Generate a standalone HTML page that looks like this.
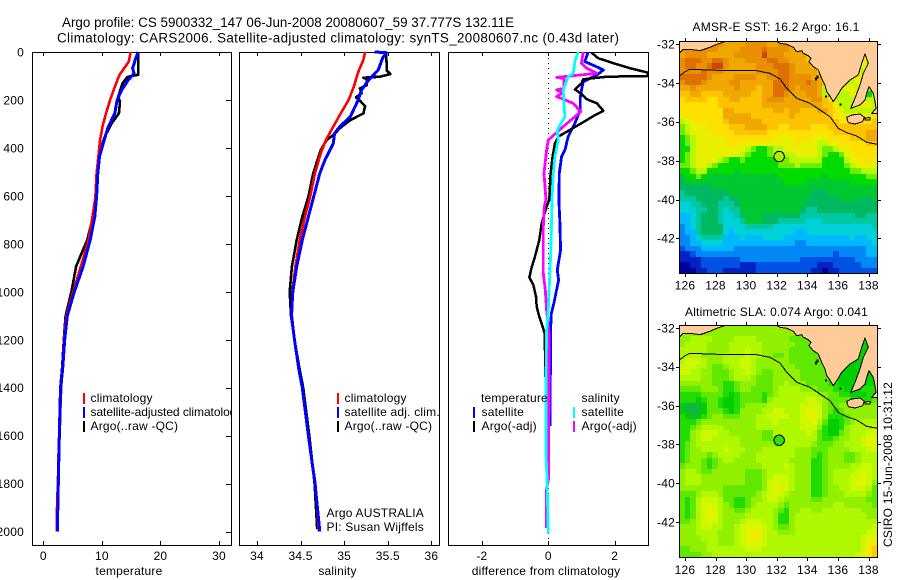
<!DOCTYPE html>
<html>
<head>
<meta charset="utf-8">
<style>
html,body{margin:0;padding:0;background:#fff;width:900px;height:580px;overflow:hidden}
svg{display:block}
text{font-family:"Liberation Sans",sans-serif;font-size:12px;fill:#000;letter-spacing:.2px}
.title{font-size:13.4px;letter-spacing:0}
.crisp{shape-rendering:crispEdges}
</style>
</head>
<body>
<svg id="fig" xmlns="http://www.w3.org/2000/svg" width="900" height="580" viewBox="0 0 900 580">
<defs>
<clipPath id="clip-p3"><rect x="448" y="52" width="200" height="493"/></clipPath>
<clipPath id="clip-m1"><rect x="679" y="41" width="199" height="233"/></clipPath>
<clipPath id="clip-m2"><rect x="679" y="325" width="199" height="233"/></clipPath>
</defs>
<text class="title" x="62" y="27" textLength="452" lengthAdjust="spacing">Argo profile: CS 5900332_147 06-Jun-2008 20080607_59 37.777S 132.11E</text>
<text class="title" x="57" y="42.5" textLength="562" lengthAdjust="spacing">Climatology: CARS2006. Satellite-adjusted climatology: synTS_20080607.nc (0.43d later)</text>

<g id="panel-temp"></g>
<g>
<rect class="crisp" x="83" y="393" width="2" height="11" fill="#f00"/><text x="90.5" y="402">climatology</text>
<rect class="crisp" x="83" y="407" width="2" height="11" fill="#00f"/><text x="90.5" y="416" textLength="152" lengthAdjust="spacing">satellite-adjusted climatology</text>
<rect class="crisp" x="83" y="421" width="2" height="11" fill="#000"/><text x="90.5" y="430">Argo(..raw -QC)</text>
</g>
<rect x="232" y="46" width="216" height="534" fill="#fff"/>
<g id="panel-sal"></g>
<g>
<rect class="crisp" x="337" y="393" width="2" height="11" fill="#f00"/><text x="344.5" y="402">climatology</text>
<rect class="crisp" x="337" y="407" width="2" height="11" fill="#00f"/><text x="344.5" y="416">satellite adj. clim.</text>
<rect class="crisp" x="337" y="421" width="2" height="11" fill="#000"/><text x="344.5" y="430">Argo(..raw -QC)</text>
<text x="326.5" y="517">Argo AUSTRALIA</text>
<text x="326.5" y="531">PI: Susan Wijffels</text>
</g>
<g id="panel-diff"></g>
<g>
<text x="481" y="402">temperature</text>
<rect class="crisp" x="473" y="407" width="2" height="11" fill="#00f"/><text x="481.5" y="416">satellite</text>
<rect class="crisp" x="473" y="421" width="2" height="11" fill="#000"/><text x="481.5" y="430">Argo(-adj)</text>
<text x="581.5" y="402">salinity</text>
<rect class="crisp" x="573" y="407" width="2" height="11" fill="#0ff"/><text x="581.5" y="416">satellite</text>
<rect class="crisp" x="573" y="421" width="2" height="11" fill="#f0f"/><text x="581.5" y="430">Argo(-adj)</text>
</g>
<g id="map-sst"></g>
<g id="map-sla"></g>
<text x="692.5" y="31" textLength="167" lengthAdjust="spacing">AMSR-E SST: 16.2 Argo: 16.1</text>
<text x="685" y="316" textLength="183" lengthAdjust="spacing">Altimetric SLA: 0.074 Argo: 0.041</text>
<text transform="translate(892,547) rotate(-90)" textLength="165" lengthAdjust="spacing">CSIRO 15-Jun-2008 10:31:12</text>
</svg>
<script>
// ---- profile data (depth in dbar) ----
const tempClimDepth=[0,40,68,96,145,200,256,311,367,436,506,603,687,784,895,1000,1100,1200,1300,1400,1500,1600,1680,1800,1880,2000];
const tempClimValue=[14.9,14.6,13.8,13.0,12.2,11.4,10.7,10.1,9.7,9.4,9.1,8.9,8.4,7.7,6.4,5.1,3.95,3.55,3.3,3.05,2.9,2.8,2.6,2.5,2.35,2.3];
const tempSatDepth=[0,26,68,89,117,158,200,256,311,367,436,506,603,687,784,895,1000,1100,1200,1325,1400,1600,1800,2000];
const tempSatValue=[16.2,15.8,15.25,15.5,14.5,13.4,12.6,12.2,11.1,10.4,9.6,9.3,9.1,8.8,8.0,6.8,5.3,4.1,3.65,3.3,2.97,2.73,2.56,2.39];
const tempArgoDepth=[0,25,95,100,105,131,186,207,256,297,353,409,506,603,687,784,853,895,1000,1100,1200,1325,1400,1600,1800,2000];
const tempArgoValue=[16.2,16.2,16.2,15.0,14.3,13.5,12.8,13.1,12.9,11.7,10.5,9.7,9.2,9.0,8.5,7.5,6.3,5.6,4.8,3.8,3.5,3.2,2.9,2.7,2.5,2.3];

const salClimDepth=[0,33,75,96,145,200,256,311,367,423,506,603,687,784,895,1000,1100,1200,1325,1400,1600,1800,2000];
const salClimValue=[35.24,35.22,35.17,35.15,35.11,35.05,34.96,34.875,34.79,34.73,34.665,34.61,34.55,34.49,34.44,34.405,34.4,34.43,34.48,34.52,34.59,34.67,34.71];
const salSatDepth=[0,3,26,75,117,158,200,270,311,339,381,450,506,603,687,784,895,1000,1100,1200,1325,1400,1600,1800,2000];
const salSatValue=[35.35,35.48,35.44,35.39,35.28,35.2,35.16,35.07,34.95,34.89,34.875,34.78,34.72,34.65,34.59,34.52,34.455,34.41,34.395,34.43,34.48,34.52,34.59,34.665,34.72];
const salArgoDepth=[0,78,92,103,107,114,138,152,172,189,203,225,256,284,318,346,367,409,506,603,687,784,895,1000,1100,1200,1325,1400,1600,1800,1990];
const salArgoValue=[35.48,35.49,35.53,35.41,35.22,35.26,35.26,35.18,35.2,35.135,35.18,35.24,35.22,35.07,34.95,34.875,34.8,34.73,34.645,34.59,34.52,34.455,34.4,34.375,34.39,34.43,34.49,34.53,34.6,34.66,34.69];

const diffTempSatDepth=[0,40,58,75,96,110,124,158,193,242,297,353,409,436,506,617,714,826,909,951,992,1048,1090,1159,1243,1500,1560];
const diffTempSatValue=[1.2,1.1,1.4,1.66,1.46,1.26,1.05,1.0,0.96,0.96,0.8,0.6,0.5,0.4,0.33,0.32,0.35,0.37,0.27,0.31,0.25,0.17,0.09,0.07,0.07,0.05,0.05];
const diffTempArgoDepth=[0,26,47,68,86,100,103,114,131,156,175,197,214,245,267,297,325,353,381,436,506,617,645,714,784,853,902,940,972,1020,1062,1104,1146,1173,1298,1340,1500];
const diffTempArgoValue=[1.28,1.5,1.97,2.47,3.0,3.0,1.77,1.05,1.0,0.8,1.0,1.16,1.46,1.66,1.36,1.0,0.65,0.3,0.2,0.13,0.07,0.03,-0.05,-0.2,-0.27,-0.4,-0.51,-0.57,-0.45,-0.37,-0.35,-0.27,-0.17,-0.11,-0.09,-0.09,-0.02];
const diffSalSatDepth=[0,40,89,103,158,214,270,325,367,436,506,617,714,853,978,1076,1159,1368,1673,1778,2007];
const diffSalSatValue=[0.9,0.8,0.75,0.6,0.45,0.47,0.5,0.27,0.3,0.2,0.15,0.11,0.1,0.07,0.03,0,-0.05,-0.07,-0.07,-0.04,0];
const diffSalArgoDepth=[0,47,68,89,106,110,152,158,170,186,197,214,249,270,311,367,409,506,617,645,728,826,923,992,1076,1173,1368,1780,1830,1985];
const diffSalArgoValue=[1.05,1.0,1.16,1.46,0.25,0.47,0.47,0.25,0.43,0.25,0.45,0.75,0.98,0.8,0.45,0,-0.05,-0.13,-0.07,-0.12,-0.15,-0.15,-0.15,-0.09,-0.05,0.02,0.02,0.01,-0.06,-0.06];

// ---- axis tick data ----
const depthTicks=[0,200,400,600,800,1000,1200,1400,1600,1800,2000];
const tempTicks=[0,10,20,30];
const salTicks=[34,34.5,35,35.5,36];
const diffTicks=[-2,0,2];
const lonTicks=[126,128,130,132,134,136,138];
const latTicks=[-32,-34,-36,-38,-40,-42];

// ---- map grids: colour-level of each cell, north to south, west to east ----
const sstGrid=[
[16,16,16,16,16,16,16,16,15,15,15,15,16,16,16,16,15,15,16,16,15,15,15,15,15,15,15,15,15,15,15,15,15,15,15,15],
[16,16,16,16,16,16,16,15,15,15,15,16,16,16,16,17,16,16,16,16,15,15,15,15,15,15,15,15,15,15,15,15,15,15,15,15],
[15,16,16,16,16,15,15,15,15,15,16,16,16,16,16,18,16,16,16,15,15,15,15,14,14,14,14,14,14,14,14,14,14,14,14,14],
[16,17,17,17,16,16,17,17,16,15,15,15,16,16,16,16,17,17,16,16,15,15,15,14,14,14,14,14,12,12,12,12,12,12,12,12],
[16,17,17,16,16,17,18,18,16,15,15,15,15,15,16,16,16,17,17,17,16,15,15,15,14,14,14,14,12,12,12,12,12,12,12,12],
[16,16,16,16,17,16,16,16,15,15,15,15,15,15,16,16,16,16,17,17,16,15,15,15,15,14,14,14,12,12,12,12,12,11,12,12],
[17,17,17,17,17,16,15,15,15,15,16,16,16,16,15,15,16,16,17,17,16,16,16,16,15,15,15,15,12,12,12,12,12,12,12,12],
[16,17,17,17,16,15,15,15,15,16,16,15,15,15,15,15,15,17,17,17,16,16,16,17,16,15,15,11,12,12,11,11,12,12,11,11],
[15,15,16,15,15,15,15,15,15,15,16,15,15,15,14,15,15,17,17,17,16,15,16,16,16,15,11,11,11,11,12,12,11,11,12,11],
[14,14,15,15,14,14,14,14,15,15,15,15,15,14,14,15,15,17,17,16,15,15,15,16,16,15,11,9,11,11,11,12,12,11,9,11],
[13,14,14,14,14,13,13,14,14,15,15,14,14,14,14,15,16,16,16,15,15,15,15,15,16,16,14,13,11,11,11,11,12,12,11,11],
[13,13,13,13,13,13,13,14,14,14,14,14,14,14,14,15,15,15,15,15,15,15,15,15,15,15,14,14,12,11,11,11,12,12,12,11],
[13,13,13,13,13,13,13,13,15,15,14,14,14,14,14,14,14,15,15,14,15,15,14,14,14,15,15,14,13,12,11,11,11,11,11,11],
[12,13,13,13,13,13,13,13,15,15,15,15,15,14,14,14,14,14,14,14,15,14,14,14,14,14,14,14,13,12,12,12,12,12,12,13],
[11,12,12,13,13,13,13,13,14,15,15,15,15,15,15,14,14,14,14,14,14,14,14,14,14,14,14,14,14,13,13,13,13,13,13,14],
[10,11,12,12,12,13,13,13,13,14,14,14,15,15,15,15,14,14,13,13,14,14,14,14,13,13,13,14,14,14,14,14,14,14,14,14],
[10,11,12,12,12,12,13,13,13,13,14,14,14,14,14,14,13,13,13,13,13,13,13,13,13,13,13,13,14,14,14,14,14,14,15,15],
[9,10,11,12,12,12,12,12,13,13,13,13,13,13,13,13,13,12,12,12,12,13,13,13,12,12,12,13,13,13,13,14,14,14,15,15],
[9,10,11,12,12,12,12,12,12,13,13,12,12,12,12,12,12,12,12,12,12,13,12,12,12,11,11,12,12,13,13,13,13,13,14,14],
[9,9,11,12,12,12,12,12,12,12,12,12,11,10,9,9,10,11,11,12,12,12,12,12,12,11,10,10,11,12,12,13,13,13,13,13],
[9,10,11,12,12,12,12,12,12,12,12,11,10,9,9,9,10,11,11,11,11,12,12,12,12,11,10,9,9,10,12,12,13,13,13,13],
[9,10,11,12,12,12,12,11,10,9,9,10,9,9,9,9,9,9,10,10,11,11,11,11,11,11,9,9,9,9,11,12,12,13,13,12],
[10,10,11,12,12,11,10,9,9,9,9,9,9,9,9,9,9,9,10,10,10,11,10,10,10,10,9,9,9,9,10,11,12,12,12,12],
[9,9,10,11,11,9,9,9,9,9,8,9,9,9,9,9,9,9,9,9,9,9,9,9,9,9,9,9,9,9,9,10,10,11,11,11],
[8,9,9,10,9,8,8,8,8,8,8,8,8,8,8,8,8,8,9,9,9,9,9,9,9,9,8,9,9,9,9,9,9,9,10,10],
[7,8,8,8,8,8,8,8,8,8,8,8,8,8,8,8,8,8,8,9,9,9,9,8,8,8,8,8,8,8,8,9,9,9,9,9],
[7,7,7,7,7,7,8,8,8,8,8,8,8,8,8,8,8,8,8,8,8,8,8,8,8,8,8,8,8,8,8,8,8,8,8,8],
[6,7,7,7,7,7,7,7,7,8,8,8,8,8,8,8,8,8,8,8,8,8,8,8,7,7,7,8,8,8,8,8,8,8,8,8],
[6,6,6,7,7,7,7,7,6,7,7,8,8,8,8,8,8,8,8,8,8,8,8,7,7,7,7,7,7,8,8,8,8,7,7,8],
[5,5,6,6,7,7,7,6,6,6,7,8,8,8,8,8,8,8,8,8,8,8,8,7,7,7,7,7,7,7,7,7,7,7,7,7],
[5,5,5,6,6,7,7,6,5,6,6,8,8,8,8,8,8,8,8,8,8,8,7,6,6,7,7,7,7,7,7,7,7,7,7,7],
[4,4,5,6,7,7,7,6,5,5,6,7,8,8,8,7,7,7,7,7,7,7,6,6,6,6,6,6,6,6,6,6,7,7,6,6],
[4,4,5,6,7,7,7,6,5,5,5,6,8,8,8,7,7,7,6,6,6,6,6,5,5,5,6,6,6,6,6,6,6,6,6,6],
[3,4,5,6,7,7,7,7,5,5,5,5,6,6,6,6,6,5,5,5,5,5,5,5,5,5,5,5,5,5,5,5,5,5,5,6],
[3,4,4,6,7,7,7,7,5,4,5,5,5,5,5,5,5,5,5,5,5,4,4,5,5,5,5,5,5,5,5,5,5,5,5,5],
[3,3,4,5,6,6,6,6,4,4,4,5,4,4,4,5,5,5,5,4,4,4,4,4,4,4,4,4,4,4,4,5,4,4,5,5],
[3,3,4,4,5,5,5,5,4,4,4,4,4,4,4,4,4,4,4,4,4,3,3,4,4,4,4,4,4,4,4,4,4,4,4,5],
[2,3,3,3,4,4,4,4,4,4,3,3,3,3,3,3,3,3,3,3,3,3,3,3,3,3,3,3,3,3,3,3,3,3,4,4],
[1,1,2,3,3,3,3,3,3,3,3,3,3,3,3,3,3,3,3,3,3,3,3,3,3,3,3,3,2,3,3,3,3,3,4,4],
[1,1,1,1,2,2,2,2,2,2,2,3,3,3,3,3,3,3,3,3,3,3,2,2,2,2,2,2,2,2,2,2,3,3,3,3],
[0,0,1,1,2,2,2,2,2,2,2,1,1,1,2,2,2,2,2,2,2,2,2,2,2,1,1,1,2,2,2,2,2,3,3,3],
[0,0,0,1,1,2,2,2,1,1,1,1,1,1,2,2,2,2,2,2,2,2,2,2,1,1,0,1,1,2,2,2,2,2,2,2]
];
const slaGrid=[
[4,4,4,4,4,4,4,4,4,4,4,4,4,4,4,4,4,4,4,4,4,3,3,3,3,3,3,3,3,3,3,3,3,3,3,3],
[4,4,4,4,4,4,4,4,4,4,4,4,4,4,4,4,4,4,4,4,4,3,3,3,3,3,3,3,3,3,3,3,3,3,3,3],
[4,4,5,5,5,5,4,4,4,4,5,5,5,5,4,4,4,4,4,4,3,3,3,3,3,3,3,3,2,2,2,2,2,2,2,2],
[4,5,5,5,5,4,4,4,4,5,5,5,5,5,5,4,4,4,4,4,4,3,3,3,3,3,3,3,1,1,1,1,1,1,1,1],
[5,5,5,5,5,4,4,4,4,5,5,5,6,5,5,4,4,4,4,4,3,3,3,3,3,3,3,3,1,1,1,1,1,1,1,1],
[5,5,5,5,4,4,4,4,5,5,5,5,6,5,5,4,4,3,3,4,3,3,3,3,3,3,3,3,1,1,1,1,1,1,1,1],
[5,6,6,6,5,4,4,4,5,5,5,6,6,5,4,4,4,4,4,4,3,3,3,3,3,3,3,3,1,1,1,1,1,1,1,1],
[6,6,6,5,5,4,3,3,4,5,5,6,6,5,4,4,4,4,4,4,4,3,3,3,3,3,3,3,1,1,1,1,1,1,1,1],
[6,6,5,5,4,4,3,3,3,4,5,5,6,5,4,3,3,4,4,4,4,4,3,3,3,3,3,3,2,1,1,1,1,1,1,1],
[5,5,5,5,4,4,3,3,3,4,5,5,5,4,3,3,3,4,4,4,4,4,3,3,3,3,3,2,1,1,1,1,1,1,1,1],
[4,4,4,4,4,4,3,3,2,2,3,4,4,4,3,3,3,4,4,5,4,4,4,3,3,3,3,2,2,1,1,1,1,1,1,1],
[3,3,3,3,4,4,4,3,2,2,3,4,4,3,3,3,3,4,5,5,5,5,4,4,4,3,3,3,2,2,1,1,1,2,2,2],
[2,2,2,2,3,3,3,3,2,1,2,3,3,3,3,2,3,4,5,5,5,5,5,5,5,4,4,3,3,2,2,1,1,1,2,2],
[2,2,2,1,2,3,3,2,1,1,2,3,3,3,3,2,4,5,5,5,5,5,5,6,6,5,4,3,3,3,3,2,2,2,2,3],
[1,0,0,0,1,3,3,2,1,1,2,3,4,4,4,4,5,5,5,5,5,5,6,6,6,6,4,3,3,4,4,4,4,4,4,4],
[1,0,0,0,1,3,3,3,2,1,2,4,4,4,4,5,5,6,6,5,5,5,6,7,7,6,4,3,2,3,4,4,4,4,4,4],
[2,1,0,1,2,3,4,4,3,3,3,4,4,4,5,5,6,6,6,6,5,5,6,7,7,6,4,2,2,2,3,4,4,4,4,4],
[2,2,2,3,4,4,4,4,4,4,4,4,4,4,5,5,5,6,5,5,5,5,6,6,7,5,3,1,1,2,3,4,5,5,5,5],
[2,2,3,4,5,5,5,5,4,4,4,4,4,4,5,5,5,5,5,5,5,5,6,6,6,4,2,1,1,2,4,5,5,5,5,6],
[2,2,4,5,6,6,6,5,5,4,4,4,4,4,4,3,3,5,5,5,5,5,5,6,5,3,2,1,1,3,4,5,5,5,6,6],
[2,2,4,5,6,6,5,5,5,5,5,4,4,4,4,3,3,4,5,5,5,5,5,5,5,3,2,2,3,4,4,5,5,6,7,7],
[2,3,4,5,5,5,5,5,5,5,5,4,4,4,4,4,4,4,5,5,5,5,5,5,4,3,3,3,4,4,5,5,5,6,7,7],
[2,3,4,4,5,5,5,5,6,5,5,5,4,4,4,5,5,5,5,5,5,4,4,4,3,3,3,4,4,4,4,5,5,5,6,6],
[2,3,4,4,4,3,4,5,5,5,5,4,4,4,5,5,5,5,5,5,5,4,4,4,3,2,3,4,4,4,3,3,4,5,5,5],
[2,3,4,4,3,2,3,4,5,5,4,4,4,4,5,5,5,5,5,5,4,4,4,4,2,2,3,4,4,4,3,3,4,5,5,5],
[3,4,4,4,3,2,3,4,4,4,4,4,4,4,4,5,5,5,5,6,5,4,4,4,2,2,3,4,4,4,4,5,5,6,6,5],
[4,5,5,4,3,3,4,4,4,4,4,4,3,3,3,4,5,5,5,5,5,4,4,4,2,2,3,4,5,5,5,5,6,6,6,5],
[4,5,5,5,4,4,4,4,4,4,4,4,3,3,3,4,5,6,6,6,5,4,4,4,2,2,3,4,5,5,5,6,6,7,6,5],
[4,5,5,5,4,4,4,4,4,4,4,4,3,3,3,4,6,7,6,6,5,4,4,4,2,2,3,4,5,5,5,6,7,7,6,4],
[4,4,4,4,4,4,4,4,3,3,3,3,3,3,3,4,6,7,7,6,5,4,4,4,2,2,3,4,4,5,5,6,6,6,5,3],
[3,3,3,4,5,5,5,4,3,3,3,3,3,3,4,5,6,7,6,5,4,4,4,4,2,2,3,4,4,4,5,5,5,5,4,3],
[3,2,3,5,6,6,6,5,3,3,2,2,3,4,4,5,6,6,5,4,4,4,4,4,3,3,4,4,4,4,4,4,4,4,3,3],
[3,2,3,5,6,7,6,5,4,3,2,2,3,4,5,5,5,5,4,3,4,4,4,4,4,4,4,4,5,5,4,4,4,4,4,3],
[3,2,3,5,6,7,7,5,4,4,3,3,4,5,5,5,5,4,3,2,4,4,5,5,4,4,5,5,5,5,5,5,5,4,4,4],
[3,2,3,5,6,7,7,5,4,4,4,4,5,5,5,5,5,4,2,2,4,5,5,5,5,5,5,5,5,5,5,5,5,5,4,4],
[3,3,4,5,6,7,6,5,4,4,4,5,6,6,6,5,5,4,2,2,4,5,5,5,5,5,5,5,5,5,5,5,5,5,5,5],
[4,4,4,5,6,6,5,5,4,4,5,6,7,7,7,6,5,4,3,3,4,5,5,5,5,5,5,5,5,5,5,5,5,5,5,6],
[4,4,4,5,5,5,5,4,4,4,5,6,7,8,8,6,5,5,4,4,4,5,5,5,5,5,5,5,5,5,5,5,5,5,6,6],
[4,4,4,4,5,5,5,4,4,4,5,6,7,8,7,6,5,5,5,5,5,5,5,5,5,5,5,5,5,5,5,5,5,6,7,7],
[4,4,4,4,4,5,5,4,4,4,5,6,7,7,7,6,5,5,5,5,5,5,5,5,5,5,5,5,5,5,5,5,5,6,7,8],
[3,3,4,4,4,5,5,5,5,5,5,5,6,6,6,5,5,5,5,5,5,5,5,5,5,5,5,5,5,5,5,5,5,6,8,9],
[3,3,3,3,4,4,5,5,5,5,5,5,5,5,5,5,5,5,5,5,5,5,5,5,5,5,5,5,5,5,5,5,6,7,8,9]
];
const argoLon=[132.11];
const argoLat=[-37.777];

// ---- colour scales ----
const sstColors=['#00009a','#0024c4','#0052e4','#0088f5','#00b8ff','#00d0d8','#00c8a0','#00b860','#00c830','#00dc00','#70ec00','#b8f800','#e8f000','#ffe000','#fcc400','#f0a800','#e89000','#dd7000','#c84810'];
const slaColors=['#10b840','#00d000','#20dc00','#60e800','#90f000','#b0f800','#ccf800','#e0f400','#f8e800','#ffc800'];

// ---- coastline geometry (fixed map decoration, SST-map pixel frame) ----
const landShape='M679.3 53.3L683.3 49.3L690 49.3L700 50.7L710 47.3L716.7 44.3L726 41.3L679.3 41.3Z M776 41.3L780 43.3L786.7 44.3L793.3 47.3L796.7 51.7L801.7 50.7L803.3 53.3L808.3 55.7L811 58.3L809 61.7L813.3 66.7L818.3 70L821.7 78.3L825 85L826.7 91.7L829.3 95L833.3 101.7L836.7 96.7L841.7 88.3L850 80L858.3 75L861.7 63.3L865 54L868.3 63.3L863.3 73.3L860 85L855 98.3L850.7 108.3L860 105L865 100L866.7 93.3L869 86.7L873.3 93.3L875 101.7L876 108.3L871.7 113.3L877.3 113.3L877.3 41.3Z M846.7 117.3L851.7 115L860 114L864.3 117.3L862.7 121.7L855 124L848.3 122.7Z M865 118L870 117.5L870 120L865 120Z M815.5 78h1v2h-1Z M817 76h1v2h-1Z M825.5 96h1v1h-1Z M840 104h1v1h-1Z';
const shelfLine='M679.3 76L685 71.7L690 69.3L708.3 70L730 70.7L756.7 70.7L770 73.3L780 79L786.7 88.3L796.7 98.3L810 103.3L820 110L830 116.7L838.3 128.3L846.7 132.7L856.7 136L866.7 142.3L877.3 144.3';

const NS='http://www.w3.org/2000/svg';
const fig=document.getElementById('fig');
function mk(parent,tag,attrs){
  const el=document.createElementNS(NS,tag);
  for(const k in attrs){el.setAttribute(k,attrs[k]);}
  parent.appendChild(el);
  return el;
}
const yDepth=d=>52+d*0.2398;
const xTemp=v=>43.3+v*5.857;
const xSal=v=>257+(v-34)*87.2;
const xDiff=v=>548.3+v*33.2;

function frame(g,x0,x1,y0,y1){
  const r=mk(g,'rect',{x:x0+.5,y:y0+.5,width:x1-x0,height:y1-y0,fill:'#fff',stroke:'#000','stroke-width':1,'shape-rendering':'crispEdges'});
  
  
}
function xAxis(g,ticks,scale,x0,y0,y1,title,titleX,fmt){
  ticks.forEach(t=>{
    const px=Math.round(scale(t))+.5;
    const a=mk(g,'path',{d:`M${px} ${y0}v4M${px} ${y1}v-4`,stroke:'#000','shape-rendering':'crispEdges',fill:'none'});
    
    
    const l=mk(g,'text',{x:scale(t),y:560,'text-anchor':'middle'});
    
    
    l.textContent=String(t);
  });
  const tt=mk(g,'text',{x:titleX,y:575,'text-anchor':'middle'});
  
  
  tt.textContent=title;
}
function drawLine(g,depths,vals,scale,color,name,w){
  const pts=depths.map((d,i)=>scale(vals[i]).toFixed(1)+','+yDepth(d).toFixed(1)).join(' ');
  const l=mk(g,'polyline',{points:pts,fill:'none',stroke:color,'stroke-width':w||2,'shape-rendering':'crispEdges','stroke-linejoin':'round'});
  
  
  return l;
}

// temperature panel
const gT=document.getElementById('panel-temp');
frame(gT,32,231,52,545);
xAxis(gT,tempTicks,xTemp,32,52,545,'temperature',129);
depthTicks.forEach(d=>{
  const py=Math.round(yDepth(d))+.5;
  const t=mk(gT,'path',{d:`M231 ${py}h-5`,stroke:'#000','shape-rendering':'crispEdges'});
  
  
  const l=mk(gT,'text',{x:24,y:yDepth(d)+4.5,'text-anchor':'end'});
  
  
  l.textContent=String(d);
});
drawLine(gT,tempArgoDepth,tempArgoValue,xTemp,'#000','temperature-argo-line',2.6);
drawLine(gT,tempClimDepth,tempClimValue,xTemp,'#f00','temperature-climatology-line',2.6);
drawLine(gT,tempSatDepth,tempSatValue,xTemp,'#00f','temperature-satellite-line',3);

// salinity panel
const gS=document.getElementById('panel-sal');
frame(gS,239,439,52,545);
xAxis(gS,salTicks,xSal,239,52,545,'salinity',337.5);
drawLine(gS,salArgoDepth,salArgoValue,xSal,'#000','salinity-argo-line',2.6);
drawLine(gS,salClimDepth,salClimValue,xSal,'#f00','salinity-climatology-line',2.6);
drawLine(gS,salSatDepth,salSatValue,xSal,'#00f','salinity-satellite-line',3);

// difference panel
const gD=document.getElementById('panel-diff');
frame(gD,448,648,52,545);
xAxis(gD,diffTicks,xDiff,448,52,545,'difference from climatology',546);
const zero=mk(gD,'line',{x1:Math.round(xDiff(0))+.5,x2:Math.round(xDiff(0))+.5,y1:53,y2:545,stroke:'#000','stroke-dasharray':'1 4','shape-rendering':'crispEdges'});


const gDc=mk(gD,'g',{'clip-path':'url(#clip-p3)'});


drawLine(gDc,diffTempSatDepth,diffTempSatValue,xDiff,'#00f','difference-temperature-satellite-line',2.8);
drawLine(gDc,diffTempArgoDepth,diffTempArgoValue,xDiff,'#000','difference-temperature-argo-line',2.5);
drawLine(gDc,diffSalArgoDepth,diffSalArgoValue,xDiff,'#f0f','difference-salinity-argo-line',2.8);
drawLine(gDc,diffSalSatDepth,diffSalSatValue,xDiff,'#0ff','difference-salinity-satellite-line',2.8);

// maps
const MAP_L=679.3,MAP_R=877.3,MAP_H=232;
const xLon=lon=>684.9+(lon-126)*15.3;
function drawMap(g,grid,colors,top,lat32,clipId,circleColor,labelBase){
  const yLat=lat=>lat32+(-32-lat)*19.4;
  const bg=mk(g,'rect',{x:MAP_L,y:top,width:MAP_R-MAP_L,height:MAP_H,fill:colors[Math.floor(colors.length/2)],'shape-rendering':'crispEdges'});
  
  
  const lon0=125.634,dLon=(MAP_R-MAP_L)/15.3/36;
  const lat0=-32+(lat32-top)/19.4,dLat=MAP_H/19.4/42;
  const cells=mk(g,'g',{'clip-path':`url(#${clipId})`,'shape-rendering':'crispEdges'});
  
  
  grid.forEach((row,r)=>row.forEach((v,c)=>{
    const x0=Math.round(xLon(lon0+c*dLon)),x1=Math.round(xLon(lon0+(c+1)*dLon));
    const y0=Math.round(yLat(lat0-r*dLat)),y1=Math.round(yLat(lat0-(r+1)*dLat));
    const cell=mk(cells,'rect',{x:x0,y:y0,width:x1-x0,height:y1-y0,fill:colors[v]});
    
    
  }));
  const off=top-41.3;
  const deco=mk(g,'g',{transform:`translate(0,${off})`,'shape-rendering':'crispEdges'});
  
  
  const land=mk(deco,'path',{d:landShape,fill:'#ffcc99',stroke:'#000','stroke-width':1,'stroke-linejoin':'round'});
  
  
  const shelf=mk(deco,'path',{d:shelfLine,fill:'none',stroke:'#000','stroke-width':1});
  
  
  const pt=mk(g,'circle',{cx:xLon(argoLon[0])+.8,cy:yLat(argoLat[0])+.2,r:5.2,fill:circleColor,stroke:'#000','stroke-width':1,'shape-rendering':'crispEdges'});
  
  
  const fr=mk(g,'rect',{x:679.5,y:Math.round(top)+.5,width:198,height:MAP_H,fill:'none',stroke:'#000','shape-rendering':'crispEdges'});
  
  
  lonTicks.forEach(t=>{
    const px=Math.round(xLon(t))+.5;
    const tick=mk(g,'path',{d:`M${px} ${Math.round(top)}v-3M${px} ${Math.round(top)+MAP_H+1}v3`,stroke:'#000','shape-rendering':'crispEdges'});
    
    
    const l=mk(g,'text',{x:xLon(t),y:labelBase,'text-anchor':'middle'});
    
    
    l.textContent=String(t);
  });
  latTicks.forEach(t=>{
    const py=Math.round(yLat(t))+.5;
    const tick=mk(g,'path',{d:`M679 ${py}h-3M878 ${py}h3`,stroke:'#000','shape-rendering':'crispEdges'});
    
    
    const l=mk(g,'text',{x:675,y:yLat(t)+4.3,'text-anchor':'end'});
    
    
    l.textContent=String(t);
  });
}
drawMap(document.getElementById('map-sst'),sstGrid,sstColors,41.3,44.3,'clip-m1','#a8f000',289.5);
drawMap(document.getElementById('map-sla'),slaGrid,slaColors,325.3,328,'clip-m2','#30e010',574);
</script>
</body>
</html>
